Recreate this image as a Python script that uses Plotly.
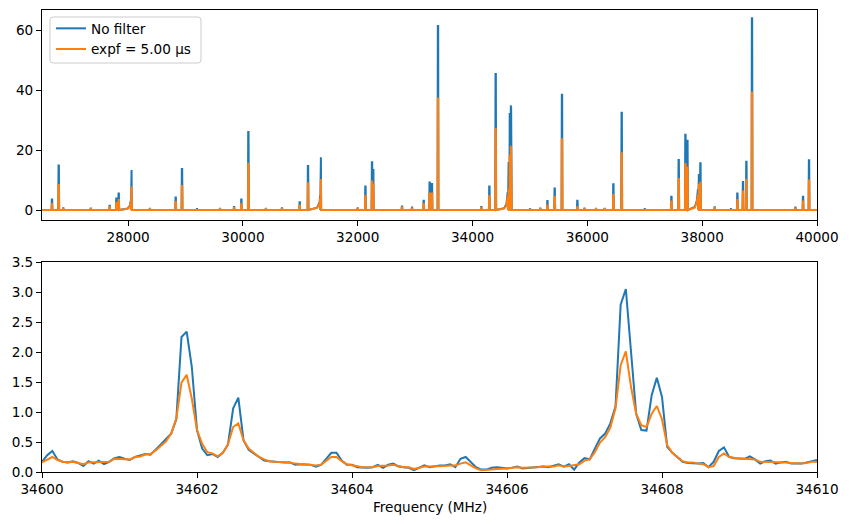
import plotly.graph_objects as go

# ---------------- Top panel: full spectrum (peak list) ----------------
peak_freq = [26674, 26791, 26870, 27350, 27679, 27796, 27836, 28057, 28380, 28829, 28939,
             29200, 29600, 29846, 29973, 30095, 30400, 30680, 30989, 31134, 31355, 32000,
             32134, 32249, 32270, 32771, 32946, 33149, 33253, 33293, 33398, 34154, 34293,
             34403, 34625, 34650, 34664, 34675, 35000, 35180, 35304, 35431, 35558, 35826,
             35950, 36150, 36300, 36453, 36598, 37000, 37464, 37591, 37708, 37743, 37939,
             37969, 38218, 38500, 38613, 38711, 38770, 38868, 39624, 39757, 39861]
peak_nofilter = [3.5, 14.8, 0.6, 0.5, 1.4, 3.8, 5.5, 13.3, 0.4, 4.2, 13.7,
                 0.3, 0.4, 1.0, 3.5, 26.0, 0.4, 0.6, 2.6, 14.7, 17.6, 0.6,
                 7.8, 15.9, 13.3, 1.2, 0.8, 3.1, 9.2, 8.7, 61.3, 1.0, 7.8,
                 45.3, 16.0, 32.0, 34.9, 34.3, 0.5, 0.5, 3.0, 7.2, 38.4, 3.1,
                 0.5, 0.4, 0.4, 8.6, 32.4, 0.3, 4.4, 16.7, 25.1, 23.1, 12.0,
                 15.6, 0.9, 0.3, 5.5, 9.3, 16.1, 63.9, 0.8, 4.4, 16.6]
peak_expf = [2.0, 8.3, 0.4, 0.3, 1.0, 2.3, 3.3, 7.8, 0.3, 2.7, 8.0,
             0.2, 0.3, 0.7, 2.0, 15.4, 0.3, 0.4, 1.5, 8.9, 10.3, 0.4,
             4.7, 9.5, 8.5, 0.8, 0.5, 2.0, 5.5, 5.5, 37.2, 0.7, 4.7,
             26.9, 7.0, 18.0, 21.4, 20.5, 0.3, 0.3, 1.5, 4.4, 23.6, 1.0,
             0.3, 0.3, 0.3, 5.0, 18.9, 0.2, 2.8, 10.3, 15.3, 14.2, 8.7,
             9.1, 0.7, 0.2, 3.3, 6.2, 10.0, 39.2, 0.5, 2.8, 9.8]

# broad wings leading into some of the lines
shoulder_freq = [27990, 28030, 28045, 31290, 31335, 31345, 34550, 34590, 34612,
                 37870, 37905, 37927]
shoulder_nofilter = [0.5, 1.5, 3.0, 0.8, 2.5, 5.0, 0.6, 2.0, 6.0, 1.0, 3.0, 7.0]
shoulder_expf = [0.4, 1.2, 2.5, 0.7, 2.0, 4.0, 0.5, 1.5, 4.5, 0.8, 2.5, 5.0]

x_range_top = [26500, 40000]

# ---------------- Bottom panel: zoom 34600-34610 MHz ----------------
zoom_start = 34600.0
zoom_step = 1.0 / 15.0
zoom_nofilter = [0.17, 0.28, 0.35, 0.21, 0.17, 0.16, 0.18, 0.15, 0.10, 0.18,
                 0.14, 0.19, 0.13, 0.17, 0.23, 0.25, 0.22, 0.20, 0.25, 0.27,
                 0.30, 0.29, 0.37, 0.46, 0.55, 0.64, 0.88, 2.25, 2.34, 1.75,
                 0.70, 0.39, 0.28, 0.30, 0.25, 0.32, 0.46, 1.06, 1.24, 0.53,
                 0.37, 0.31, 0.24, 0.19, 0.18, 0.17, 0.17, 0.16, 0.16, 0.12,
                 0.13, 0.13, 0.12, 0.09, 0.12, 0.22, 0.32, 0.32, 0.19, 0.12,
                 0.12, 0.08, 0.07, 0.07, 0.08, 0.12, 0.07, 0.12, 0.14, 0.09,
                 0.08, 0.07, 0.03, 0.07, 0.11, 0.08, 0.10, 0.11, 0.11, 0.13,
                 0.08, 0.22, 0.25, 0.17, 0.08, 0.04, 0.04, 0.07, 0.08, 0.07,
                 0.06, 0.07, 0.09, 0.06, 0.07, 0.08, 0.08, 0.09, 0.08, 0.10,
                 0.13, 0.09, 0.13, 0.04, 0.16, 0.23, 0.21, 0.39, 0.56, 0.64,
                 0.81, 1.09, 2.79, 3.05, 2.03, 0.97, 0.70, 0.69, 1.28, 1.57,
                 1.25, 0.42, 0.32, 0.25, 0.17, 0.15, 0.14, 0.14, 0.15, 0.08,
                 0.17, 0.35, 0.41, 0.25, 0.23, 0.22, 0.22, 0.26, 0.21, 0.14,
                 0.18, 0.19, 0.14, 0.16, 0.17, 0.14, 0.14, 0.14, 0.16, 0.18,
                 0.20]
zoom_expf = [0.16, 0.21, 0.25, 0.20, 0.17, 0.16, 0.17, 0.15, 0.13, 0.16,
             0.16, 0.17, 0.16, 0.17, 0.22, 0.22, 0.22, 0.21, 0.25, 0.26,
             0.29, 0.30, 0.36, 0.44, 0.51, 0.64, 0.89, 1.49, 1.62, 1.22,
             0.70, 0.47, 0.33, 0.31, 0.26, 0.32, 0.46, 0.75, 0.81, 0.53,
             0.39, 0.32, 0.25, 0.21, 0.18, 0.17, 0.17, 0.16, 0.16, 0.14,
             0.13, 0.13, 0.12, 0.11, 0.12, 0.19, 0.25, 0.25, 0.18, 0.13,
             0.11, 0.09, 0.08, 0.08, 0.08, 0.10, 0.10, 0.11, 0.12, 0.10,
             0.08, 0.08, 0.05, 0.07, 0.09, 0.09, 0.09, 0.10, 0.10, 0.11,
             0.11, 0.14, 0.16, 0.11, 0.06, 0.03, 0.03, 0.04, 0.05, 0.05,
             0.06, 0.07, 0.08, 0.07, 0.07, 0.08, 0.08, 0.09, 0.09, 0.09,
             0.11, 0.09, 0.10, 0.11, 0.13, 0.19, 0.21, 0.33, 0.49, 0.58,
             0.74, 1.06, 1.78, 2.01, 1.42, 0.97, 0.78, 0.75, 0.97, 1.10,
             0.88, 0.45, 0.32, 0.25, 0.18, 0.16, 0.16, 0.14, 0.13, 0.08,
             0.10, 0.25, 0.31, 0.25, 0.23, 0.22, 0.22, 0.22, 0.21, 0.17,
             0.17, 0.17, 0.16, 0.16, 0.16, 0.15, 0.14, 0.14, 0.15, 0.17,
             0.17]

BLUE = "#1f77b4"
ORANGE = "#ff7f0e"
FONT = "DejaVu Sans"
FS = 13.6

# page geometry (pixels)
W, H = 849, 525
ML, MR, MT, MB = 42, 32, 10, 53
PW, PH = W - ML - MR, H - MT - MB


def px_x(px):
    return (px - ML) / PW


def px_y(py):
    return (H - MB - py) / PH


def build_top(heights, shoulder_vals):
    pts = [(x_range_top[0], 0.0), (x_range_top[1], 0.0)]
    for f, h in zip(peak_freq, heights):
        pts += [(f - 8, 0.0), (f - 3, h), (f + 3, h), (f + 8, 0.0)]
    for f, v in zip(shoulder_freq, shoulder_vals):
        pts.append((f, v))
    pts.sort(key=lambda p: p[0])
    return [p[0] for p in pts], [p[1] for p in pts]


tx_b, ty_b = build_top(peak_nofilter, shoulder_nofilter)
tx_o, ty_o = build_top(peak_expf, shoulder_expf)
zoom_x = [zoom_start + i * zoom_step for i in range(len(zoom_nofilter))]

fig = go.Figure()
fig.add_trace(go.Scatter(x=tx_b, y=ty_b, mode="lines", name="No filter",
                         line=dict(color=BLUE, width=2), xaxis="x", yaxis="y"))
fig.add_trace(go.Scatter(x=tx_o, y=ty_o, mode="lines", name="expf = 5.00 µs",
                         line=dict(color=ORANGE, width=2), xaxis="x", yaxis="y"))
fig.add_trace(go.Scatter(x=zoom_x, y=zoom_nofilter, mode="lines", showlegend=False,
                         line=dict(color=BLUE, width=2), xaxis="x2", yaxis="y2"))
fig.add_trace(go.Scatter(x=zoom_x, y=zoom_expf, mode="lines", showlegend=False,
                         line=dict(color=ORANGE, width=2), xaxis="x2", yaxis="y2"))

axis_style = dict(showline=True, mirror=True, linecolor="black", linewidth=1,
                  ticks="outside", ticklen=5, tickwidth=1, tickcolor="black",
                  showgrid=False, zeroline=False, automargin=False,
                  tickfont=dict(family=FONT, size=FS, color="black"))

# rounded legend frame (matplotlib style)
x0, x1 = px_x(50), px_x(201)
y0, y1 = px_y(63), px_y(17)
rx, ry = 3 / PW, 3 / PH
frame_path = (f"M {x0+rx},{y0} L {x1-rx},{y0} Q {x1},{y0} {x1},{y0+ry} "
              f"L {x1},{y1-ry} Q {x1},{y1} {x1-rx},{y1} L {x0+rx},{y1} "
              f"Q {x0},{y1} {x0},{y1-ry} L {x0},{y0+ry} Q {x0},{y0} {x0+rx},{y0} Z")

fig.update_layout(
    width=W, height=H,
    margin=dict(l=ML, r=MR, t=MT, b=MB, autoexpand=False),
    paper_bgcolor="white", plot_bgcolor="white",
    font=dict(family=FONT, size=FS, color="black"),
    xaxis=dict(domain=[0, 1], anchor="y", range=x_range_top,
               tickvals=[28000, 30000, 32000, 34000, 36000, 38000, 40000],
               tickformat="d", **axis_style),
    yaxis=dict(domain=[252 / 462, 1], anchor="x", range=[-3.33, 66.67],
               tickvals=[0, 20, 40, 60], **axis_style),
    xaxis2=dict(domain=[0, 1], anchor="y2", range=[34600, 34610],
                tickvals=[34600, 34602, 34604, 34606, 34608, 34610], tickformat="d",
                **axis_style),
    yaxis2=dict(domain=[0, 210 / 462], anchor="x2", range=[0, 3.5],
                tickvals=[0, 0.5, 1, 1.5, 2, 2.5, 3, 3.5], tickformat=".1f",
                **axis_style),
    shapes=[dict(type="path", path=frame_path, xref="paper", yref="paper",
                 line=dict(color="#cccccc", width=1),
                 fillcolor="rgba(255,255,255,0.8)", layer="above")],
    annotations=[dict(text="Frequency (MHz)", x=0.5, y=px_y(507), xref="paper",
                      yref="paper", xanchor="center", yanchor="middle",
                      showarrow=False, font=dict(family=FONT, size=FS, color="black"))],
    legend=dict(x=px_x(51), y=px_y(13), xref="paper", yref="paper",
                xanchor="left", yanchor="top",
                bgcolor="rgba(0,0,0,0)", borderwidth=0,
                font=dict(family=FONT, size=FS, color="black"),
                tracegroupgap=0),
)

fig.write_html("out.html")
